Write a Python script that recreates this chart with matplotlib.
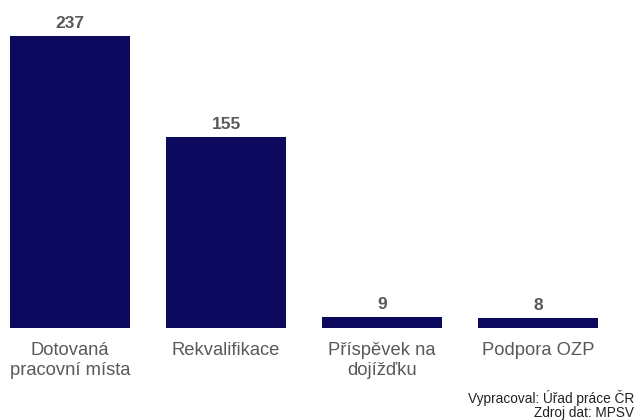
import matplotlib
matplotlib.use("Agg")
import matplotlib.pyplot as plt

categories = ["Dotovaná\npracovní místa", "Rekvalifikace", "Příspěvek na\ndojížďku", "Podpora OZP"]
values = [237, 155, 9, 8]

plt.rcParams['font.family'] = ['Liberation Sans', 'DejaVu Sans']

fig = plt.figure(figsize=(6.35, 4.2), dpi=100)
ax = fig.add_axes([0, 92/420, 1, 328/420])
x = list(range(len(categories)))
ax.bar(x, values, width=0.77, color="#0b0a5e")
ax.set_xlim(-70/156, (635-70)/156)
ax.set_ylim(0, 328/1.232)
for xi, v in zip(x, values):
    ax.annotate(str(v), (xi, v), xytext=(0, 6), textcoords="offset points",
                ha="center", va="baseline", fontsize=12.5, fontweight="bold", color="#595959")
for xi, c in zip(x, categories):
    ax.annotate(c, (xi, 0), xytext=(0, -10), textcoords="offset points",
                ha="center", va="top", fontsize=13.2, color="#595959", linespacing=1.22,
                annotation_clip=False)
for s in ax.spines.values():
    s.set_visible(False)
ax.set_xticks([])
ax.set_yticks([])
fig.text(634/635, 1 - 398/420, "Vypracoval: Úřad práce ČR", ha="right", va="center", fontsize=9.8, color="#222222")
fig.text(634/635, 1 - 412.5/420, "Zdroj dat: MPSV", ha="right", va="center", fontsize=9.8, color="#222222")
fig.savefig("out.png", dpi=100)
